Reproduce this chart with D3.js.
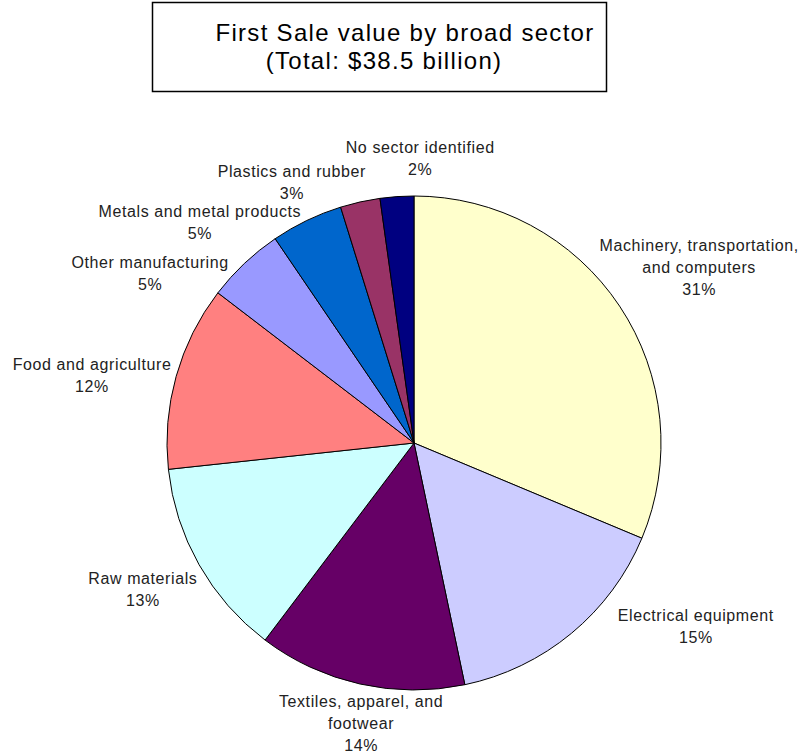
<!DOCTYPE html>
<html>
<head>
<meta charset="utf-8">
<script src="https://cdn.jsdelivr.net/npm/d3@7"></script>
<style>
  body { margin: 0; background: #fff; }
  svg text { font-family: "Liberation Sans", Arial, sans-serif; }
</style>
</head>
<body>
<div id="chart"></div>
<script>
// sector shares (percent of $38.5 billion), clockwise from 12 o'clock
var sectors = ["Machinery, transportation, and computers", "Electrical equipment",
    "Textiles, apparel, and footwear", "Raw materials", "Food and agriculture",
    "Other manufacturing", "Metals and metal products", "Plastics and rubber", "No sector identified"];
var shares = [31.3, 15.4, 13.6, 13.0, 12.1, 5.1, 4.7, 2.6, 2.2];
var colors = ["#FFFFCC", "#CCCCFF", "#660066", "#CCFFFF", "#FF8080",
    "#9999FF", "#0066CC", "#993366", "#000080"];
// how each label is broken into lines
var labelLines = [
    ["Machinery, transportation,", "and computers"],
    ["Electrical equipment"],
    ["Textiles, apparel, and", "footwear"],
    ["Raw materials"],
    ["Food and agriculture"],
    ["Other manufacturing"],
    ["Metals and metal products"],
    ["Plastics and rubber"],
    ["No sector identified"]
];
var titleLines = ["First Sale value by broad sector", "(Total: $38.5 billion)"];

// label layout: angle nudge from slice middle (deg) and distance from centre
var labelNudge = [2, -17.4, -1.9, 1.2, -3.8, -13.8, -18.3, -12.5, 5.2];
var labelDist = [335, 336, 285, 308, 329, 314, 308, 288, 285];
// title line centres (the first line sits a bit right in the original)
var titleX = [405, 384];

var width = 803, height = 754;
var cx = 414, cy = 443, radius = 247;
var lineH = 22;

var svg = d3.select("#chart").append("svg")
    .attr("width", width)
    .attr("height", height);

//title box
svg.append("rect")
    .attr("x", 152.5).attr("y", 2.5)
    .attr("width", 454).attr("height", 89)
    .attr("fill", "#fff")
    .attr("stroke", "#000")
    .attr("stroke-width", 1.5);

svg.selectAll("text.title")
    .data(titleLines)
    .enter().append("text")
    .attr("class", "title")
    .attr("x", function(d, i){ return titleX[i]; })
    .attr("y", function(d, i){ return 41 + i * 28; })
    .attr("text-anchor", "middle")
    .attr("font-size", 24)
    .attr("letter-spacing", 1.3)
    .attr("fill", "#000")
    .text(function(d){ return d; });

var data = shares.map(function(v, i){
    return {name: sectors[i], value: v, color: colors[i], lines: labelLines[i], idx: i};
});

var pie = d3.pie()
    .sort(null)
    .value(function(d){ return d.value; });

var arc = d3.arc()
    .innerRadius(0)
    .outerRadius(radius);

var g = svg.append("g")
    .attr("transform", "translate(" + cx + "," + cy + ")");

var arcs = pie(data);

g.selectAll("path")
    .data(arcs)
    .enter().append("path")
    .attr("d", arc)
    .attr("fill", function(d){ return d.data.color; })
    .attr("stroke", "#000")
    .attr("stroke-width", 1)
    .attr("stroke-linejoin", "round");

var total = d3.sum(shares);

var labels = g.selectAll("g.label")
    .data(arcs)
    .enter().append("g")
    .attr("class", "label")
    .attr("transform", function(d){
        var i = d.data.idx;
        var a = (d.startAngle + d.endAngle) / 2 + labelNudge[i] * Math.PI / 180;
        var r = labelDist[i];
        return "translate(" + (Math.sin(a) * r) + "," + (-Math.cos(a) * r) + ")";
    });

labels.each(function(d){
    var lines = d.data.lines.concat([Math.round(d.data.value / total * 100) + "%"]);
    var n = lines.length;
    d3.select(this).selectAll("text")
        .data(lines)
        .enter().append("text")
        .attr("text-anchor", "middle")
        .attr("font-size", 16)
        .attr("letter-spacing", 0.6)
        .attr("fill", "#222")
        .attr("y", function(t, j){ return (j - (n - 1) / 2) * lineH + 6; })
        .text(function(t){ return t; });
});
</script>
</body>
</html>
